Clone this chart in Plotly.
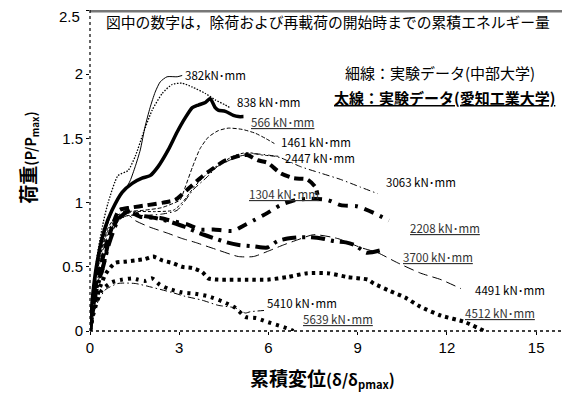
import plotly.graph_objects as go

# ---------------- data ----------------
# thin lines: 中部大学
x382 = [0, 0.07, 0.17, 0.34, 0.51, 0.74, 1.01, 1.18, 1.35, 1.52, 1.69, 1.85, 2.02, 2.19, 2.36, 2.59, 2.93, 3.1]
y382 = [0, 0.24, 0.44, 0.63, 0.77, 0.93, 1.05, 1.10, 1.17, 1.28, 1.41, 1.59, 1.74, 1.86, 1.94, 1.98, 1.98, 1.99]

x838 = [0, 0.1, 0.25, 0.45, 0.61, 0.94, 1.28, 1.52, 1.79, 2.09, 2.43, 2.76, 3.1, 3.44, 3.88, 4.21, 4.55, 4.7]
y838 = [0, 0.3, 0.6, 0.85, 1.0, 1.21, 1.25, 1.36, 1.54, 1.72, 1.85, 1.92, 1.93, 1.90, 1.85, 1.80, 1.76, 1.74]

x1461 = [0, 0.15, 0.35, 0.6, 0.9, 1.3, 1.8, 2.4, 2.86, 3.03, 3.2, 3.45, 3.7, 3.98, 4.31, 4.65, 5.12, 5.56, 5.9, 6.2]
y1461 = [0, 0.35, 0.6, 0.8, 0.9, 0.93, 0.94, 0.96, 1.0, 1.02, 1.12, 1.28, 1.42, 1.51, 1.56, 1.58, 1.57, 1.54, 1.50, 1.46]

x2447 = [0, 0.15, 0.35, 0.6, 0.9, 1.3, 1.58, 2.2, 2.8, 3.1, 3.5, 4.0, 4.5, 4.9, 5.3, 5.8, 6.4]
y2447 = [0, 0.33, 0.58, 0.78, 0.88, 0.92, 0.93, 0.93, 0.94, 1.0, 1.12, 1.24, 1.32, 1.37, 1.39, 1.37, 1.36]

x3063 = [0, 0.15, 0.35, 0.6, 0.9, 1.3, 1.8, 2.4, 2.93, 3.47, 3.94, 4.28, 4.6, 5.0, 5.5, 6.0, 6.4, 7.08, 7.75, 8.43, 9.1, 9.67]
y3063 = [0, 0.3, 0.55, 0.75, 0.86, 0.9, 0.9, 0.91, 0.94, 1.10, 1.20, 1.28, 1.32, 1.36, 1.38, 1.37, 1.35, 1.28, 1.23, 1.18, 1.12, 1.07]

x4491 = [0, 0.2, 0.45, 0.7, 1.0, 1.3, 1.52, 2.0, 2.63, 3.1, 3.54, 4.31, 4.99, 5.5, 5.97, 6.5, 6.98, 7.52, 8.33, 9.1, 9.67, 10.35, 11.12, 11.8, 12.47]
y4491 = [0, 0.3, 0.55, 0.75, 0.87, 0.9, 0.86, 0.81, 0.76, 0.72, 0.69, 0.63, 0.58, 0.58, 0.62, 0.67, 0.71, 0.75, 0.72, 0.65, 0.61, 0.53, 0.45, 0.40, 0.33]

x5410 = [0, 0.1, 0.25, 0.51, 0.94, 1.52, 2.09, 2.76, 3.2, 3.77, 4.31, 4.89, 5.22, 5.39, 5.85]
y5410 = [0, 0.12, 0.22, 0.32, 0.37, 0.37, 0.34, 0.30, 0.27, 0.24, 0.20, 0.18, 0.14, 0.15, 0.16]

# thick lines: 愛知工業大学
x566 = [0, 0.1, 0.25, 0.5, 0.74, 1.08, 1.42, 1.75, 2.02, 2.29, 2.63, 2.93, 3.2, 3.44, 3.64, 3.88, 4.04, 4.21, 4.31, 4.55, 4.82, 4.99, 5.16]
y566 = [0, 0.3, 0.55, 0.8, 0.94, 1.08, 1.15, 1.19, 1.21, 1.28, 1.41, 1.55, 1.66, 1.74, 1.76, 1.78, 1.81, 1.74, 1.72, 1.71, 1.68, 1.67, 1.67]

x1304 = [0, 0.15, 0.35, 0.6, 0.98, 1.35, 1.92, 2.46, 2.86, 3.27, 3.7, 4.04, 4.48, 4.95, 5.29, 5.63, 5.97, 6.4, 6.84, 7.31, 7.58, 7.65]
y1304 = [0, 0.32, 0.5, 0.71, 0.94, 0.96, 0.98, 1.0, 1.02, 1.10, 1.19, 1.25, 1.32, 1.36, 1.37, 1.33, 1.31, 1.23, 1.19, 1.18, 1.12, 1.06]

x2208 = [0, 0.2, 0.44, 0.64, 0.98, 1.3, 1.69, 2.36, 2.7, 3.27, 3.7, 4.15, 4.82, 5.16, 5.49, 5.97, 6.4, 6.91, 7.4, 7.99, 8.43, 9.0, 9.54, 10.05]
y2208 = [0, 0.32, 0.5, 0.71, 0.9, 0.93, 0.89, 0.88, 0.86, 0.83, 0.79, 0.79, 0.78, 0.82, 0.86, 0.92, 0.98, 1.02, 1.03, 1.02, 0.98, 0.97, 0.92, 0.86]

x3700 = [0, 0.2, 0.44, 0.64, 0.98, 1.3, 1.7, 2.2, 2.7, 3.2, 3.7, 4.2, 4.6, 5.0, 5.5, 5.96, 6.3, 6.64, 7.0, 7.4, 7.8, 8.2, 8.6, 8.9, 9.3, 9.8]
y3700 = [0, 0.3, 0.5, 0.68, 0.88, 0.93, 0.9, 0.88, 0.85, 0.81, 0.76, 0.72, 0.69, 0.67, 0.66, 0.65, 0.70, 0.72, 0.73, 0.73, 0.72, 0.70, 0.69, 0.67, 0.61, 0.63]

x4512 = [0, 0.15, 0.35, 0.54, 0.84, 1.18, 1.52, 1.85, 2.12, 2.43, 2.76, 3.1, 3.44, 3.77, 3.98, 4.31, 4.65, 4.99, 5.32, 5.97, 6.64, 7.31, 7.99, 8.66, 9.34, 9.54, 10.1, 10.6, 11.1, 11.8, 12.6, 13.25]
y4512 = [0, 0.2, 0.35, 0.45, 0.53, 0.54, 0.55, 0.56, 0.58, 0.55, 0.53, 0.50, 0.49, 0.46, 0.41, 0.40, 0.40, 0.40, 0.40, 0.40, 0.42, 0.45, 0.45, 0.42, 0.40, 0.37, 0.31, 0.26, 0.19, 0.12, 0.07, 0.0]

x5639 = [0, 0.1, 0.25, 0.4, 0.74, 1.08, 1.42, 1.62, 1.85, 2.09, 2.35, 2.63, 3.1, 3.54, 3.98, 4.45, 4.89, 5.22, 5.6, 5.97, 6.64, 6.84]
y5639 = [0, 0.12, 0.24, 0.32, 0.38, 0.40, 0.41, 0.40, 0.39, 0.41, 0.36, 0.33, 0.30, 0.29, 0.27, 0.23, 0.18, 0.11, 0.10, 0.07, 0.02, 0.0]

# energy labels
label_text = ["382kN･mm", "838 kN･mm", "1461 kN･mm", "2447 kN･mm", "3063 kN･mm", "4491 kN･mm", "5410 kN･mm",
              "566 kN･mm", "1304 kN･mm", "2208 kN･mm", "3700 kN･mm", "4512 kN･mm", "5639 kN･mm"]
label_x = [3.13, 4.89, 6.34, 6.5, 9.88, 12.87, 5.9, 5.33, 5.29, 10.7, 10.45, 12.54, 7.08]
label_y = [1.99, 1.78, 1.47, 1.35, 1.16, 0.32, 0.22, 1.63, 1.07, 0.80, 0.58, 0.14, 0.09]
label_thick = [False] * 7 + [True] * 6

x_ticks = [0, 3, 6, 9, 12, 15]
y_ticks = [0, 0.5, 1, 1.5, 2, 2.5]
y_tick_text = ["0", "0.5", "1", "1.5", "2", "2.5"]

title_text = "図中の数字は，除荷および再載荷の開始時までの累積エネルギー量"
thin_text = "細線：実験データ(中部大学)"
thick_text = "太線：実験データ(愛知工業大学)"

# ---------------- figure ----------------
JP = "Noto Sans CJK JP"
TICKFONT = dict(family="Liberation Sans", size=15, color="black")
fig = go.Figure()

series = [
    (x382, y382, 1.0, "solid"),
    (x838, y838, 1.3, "1.5px,1.5px"),
    (x1461, y1461, 1.0, "4px,2px"),
    (x2447, y2447, 1.0, "3px,2px"),
    (x3063, y3063, 1.0, "7px,3px,1.5px,3px"),
    (x4491, y4491, 1.0, "10px,5px"),
    (x5410, y5410, 1.0, "7px,3px,1.5px,3px"),
    (x566, y566, 3.5, "solid"),
    (x1304, y1304, 4.0, "9px,5px"),
    (x2208, y2208, 4.0, "10px,7px,3px,7px"),
    (x3700, y3700, 4.0, "14px,6px,3px,6px"),
    (x4512, y4512, 4.0, "3.5px,4px"),
    (x5639, y5639, 4.0, "3px,5px"),
]
for xs, ys, w, d in series:
    fig.add_trace(go.Scatter(x=xs, y=ys, mode="lines",
                             line=dict(color="black", width=w, dash=d, shape="spline", smoothing=0.6),
                             showlegend=False, hoverinfo="skip"))

for t, lx, ly, thick in zip(label_text, label_x, label_y, label_thick):
    fig.add_annotation(x=lx, y=ly, xref="x", yref="y", xanchor="left", yanchor="middle",
                       text=(f"<u>{t}</u>" if thick else t), showarrow=False,
                       font=dict(family=JP, size=11.5, color=("#333" if thick else "black")))

fig.add_annotation(x=0.5, y=0.963, xref="paper", yref="paper", xanchor="center", yanchor="middle",
                   text=title_text, showarrow=False, font=dict(family=JP, size=14.8, color="black"))
fig.add_annotation(x=0.533, y=0.805, xref="paper", yref="paper", xanchor="left", yanchor="middle",
                   text=thin_text, showarrow=False, font=dict(family=JP, size=15, color="black"))
fig.add_annotation(x=0.51, y=0.727, xref="paper", yref="paper", xanchor="left", yanchor="middle",
                   text=f"<b><u>{thick_text}</u></b>", showarrow=False, font=dict(family=JP, size=15, color="black"))

# top tick label drawn as an annotation so that it is not dropped at the page edge
fig.add_annotation(x=0, y=y_ticks[-1], xref="paper", yref="y", xanchor="right", yanchor="middle",
                   xshift=-8, yshift=-6, showarrow=False, text=y_tick_text[-1], font=TICKFONT)

# axis titles
fig.add_annotation(x=0, y=0.54, xref="paper", yref="paper", xanchor="center", yanchor="middle",
                   xshift=-62, textangle=-90, showarrow=False,
                   text="<b>荷重<span style='font-size:14px'>(P/P<sub>max</sub>)</span></b>",
                   font=dict(family=JP, size=19, color="black"))
fig.add_annotation(x=0.49, y=0, xref="paper", yref="paper", xanchor="center", yanchor="middle",
                   yshift=-47, showarrow=False,
                   text="<b>累積変位<span style='font-size:16px'>(δ/δ<sub>pmax</sub>)</span></b>",
                   font=dict(family=JP, size=19, color="black"))

# frame (top and right drawn slightly inside the edge)
fig.add_shape(type="line", xref="paper", yref="paper", x0=0, x1=1, y0=0.996, y1=0.996,
              line=dict(color="#777", width=2.5), layer="above")
fig.add_shape(type="line", xref="paper", yref="paper", x0=0.998, x1=0.998, y0=0, y1=1,
              line=dict(color="#333", width=1.3), layer="above")
fig.add_shape(type="line", xref="paper", yref="paper", x0=0, x1=0, y0=0, y1=1,
              line=dict(color="black", width=1.2, dash="dot"))
fig.add_shape(type="line", xref="paper", yref="paper", x0=0, x1=1, y0=0, y1=0,
              line=dict(color="black", width=1.5, dash="dot"))

# the page body has an 8 px margin; the figure is placed to fit inside the window
fig.update_layout(
    width=558, height=386,
    margin=dict(l=82, r=1, t=2, b=63),
    paper_bgcolor="white", plot_bgcolor="white",
    xaxis=dict(range=[0, 15.97], tickvals=x_ticks, ticktext=[str(v) for v in x_ticks],
               showgrid=False, zeroline=False, showline=False,
               ticks="outside", ticklen=3, tickcolor="black", tickfont=TICKFONT),
    yaxis=dict(range=[0, 2.5], tickvals=y_ticks, ticktext=y_tick_text[:-1] + [""],
               showgrid=False, zeroline=False, showline=False,
               ticks="outside", ticklen=3, tickcolor="black", tickfont=TICKFONT),
)

fig.write_html("out.html")
